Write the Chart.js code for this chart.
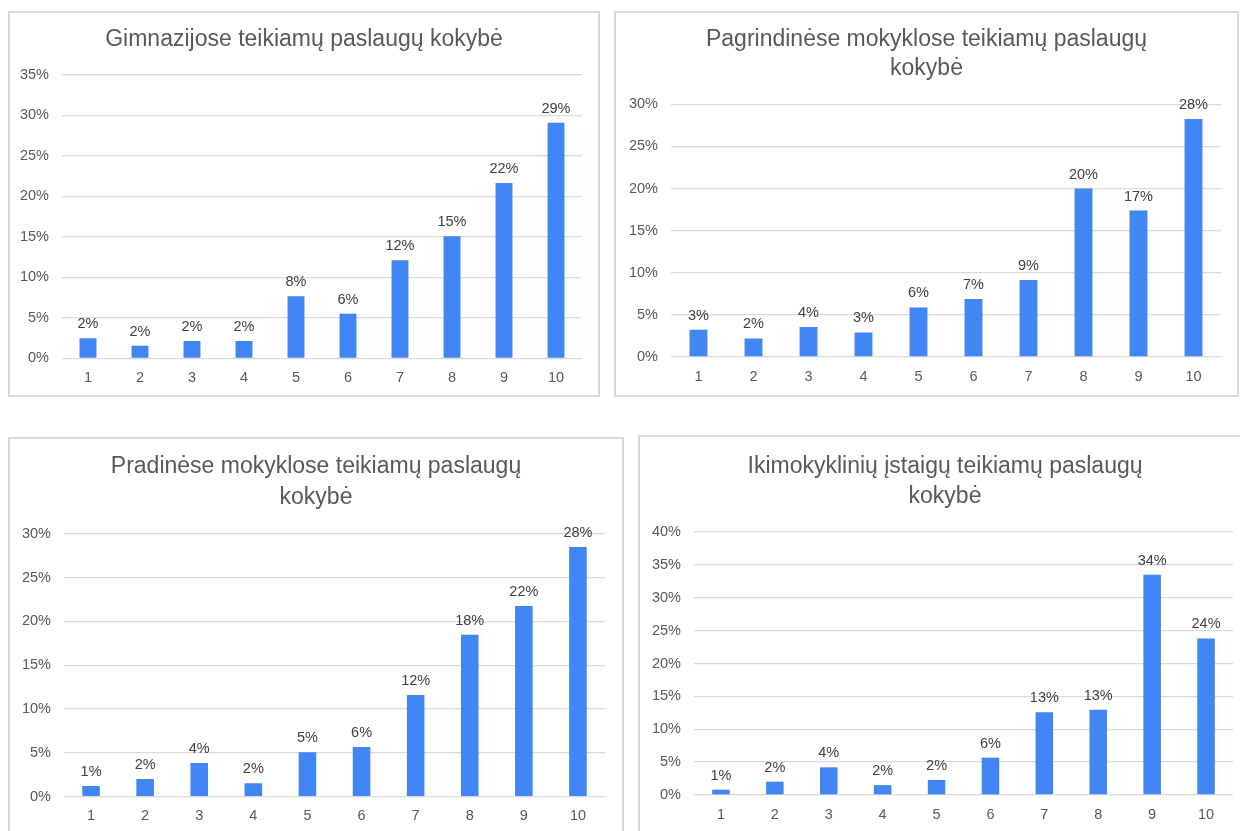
<!DOCTYPE html>
<html lang="lt">
<head>
<meta charset="utf-8">
<title>Teikiamų paslaugų kokybė</title>
<script src="https://cdn.jsdelivr.net/npm/chart.js@4.4.1/dist/chart.umd.min.js"></script>
<style>
  html, body { margin: 0; padding: 0; background: #fff; overflow: hidden; width: 1240px; height: 831px; }
  .box { position: absolute; box-sizing: border-box; border: 2px solid #d9d9d9; }
  canvas { position: absolute; }
</style>
</head>
<body>
<script>
const categories = ['1', '2', '3', '4', '5', '6', '7', '8', '9', '10'];

// shares in %
const gimnazijos = [2.47, 1.56, 2.14, 2.14, 7.66, 5.5, 12.1, 15.07, 21.65, 29.1];
const pagrindines = [3.24, 2.21, 3.56, 2.92, 5.89, 6.88, 9.13, 20.0, 17.39, 28.26];
const pradines = [1.22, 2.02, 3.84, 1.52, 5.06, 5.67, 11.6, 18.48, 21.75, 28.48];
const ikimokyklines = [0.81, 2.03, 4.21, 1.5, 2.28, 5.68, 12.57, 12.97, 33.5, 23.82];

const title1 = ['Gimnazijose teikiamų paslaugų kokybė'];
const title2 = ['Pagrindinėse mokyklose teikiamų paslaugų', 'kokybė'];
const title3 = ['Pradinėse mokyklose teikiamų paslaugų', 'kokybė'];
const title4 = ['Ikimokyklinių įstaigų teikiamų paslaugų', 'kokybė'];

const yMax1 = 35, yMax2 = 30, yMax3 = 30, yMax4 = 40;

const FONT = '"Liberation Sans", Arial, sans-serif';
const VIEW_H = 831;

// box = frame edges, plot = chart area edges (page px)
const panels = [
    { title: title1, values: gimnazijos, max: yMax1, box: [8, 11, 600, 397], plot: [62, 75, 582, 358.3], titleY: 40, lineH: 29 },
    { title: title2, values: pagrindines, max: yMax2, box: [614, 11, 1239, 397], plot: [671, 104.3, 1221, 357], titleY: 40, lineH: 28.5 },
    { title: title3, values: pradines, max: yMax3, box: [8, 437, 624, 845], plot: [64, 533.7, 605, 796.7], titleY: 466.7, lineH: 30.5 },
    { title: title4, values: ikimokyklines, max: yMax4, box: [638, 435, 1252, 845], plot: [694, 532, 1233, 795], titleY: 466.7, lineH: 29.5 }
];

const valueLabels = {
    id: 'valueLabels',
    afterDatasetsDraw(chart) {
        const ctx = chart.ctx;
        const values = chart.data.datasets[0].data;
        ctx.save();
        ctx.font = '14.5px ' + FONT;
        ctx.fillStyle = '#404040';
        ctx.textAlign = 'center';
        ctx.textBaseline = 'alphabetic';
        chart.getDatasetMeta(0).data.forEach((bar, i) => {
            ctx.fillText(Math.round(values[i]) + '%', bar.x, bar.y - 10);
        });
        ctx.restore();
    }
};

function makePanel(p) {
    const [bl, bt, br, bb] = p.box;
    const [pl, pt, pr, pb] = p.plot;

    const frame = document.createElement('div');
    frame.className = 'box';
    Object.assign(frame.style, { left: bl + 'px', top: bt + 'px', width: (br - bl) + 'px', height: (bb - bt) + 'px' });
    document.body.appendChild(frame);

    const h = Math.min(bb, VIEW_H) - bt;
    const canvas = document.createElement('canvas');
    canvas.width = br - bl;
    canvas.height = h;
    canvas.style.left = bl + 'px';
    canvas.style.top = bt + 'px';
    document.body.appendChild(canvas);

    const padTop = p.titleY - bt - p.lineH / 2;
    const padBottom = (pt - bt) - padTop - p.title.length * p.lineH;

    return new Chart(canvas, {
        type: 'bar',
        data: {
            labels: categories,
            datasets: [{
                data: p.values,
                backgroundColor: '#4285f4',
                barPercentage: 0.325,
                categoryPercentage: 1
            }]
        },
        plugins: [valueLabels],
        options: {
            responsive: false,
            animation: false,
            layout: { padding: 0 },
            scales: {
                x: {
                    grid: { display: false, drawTicks: false },
                    border: { display: false },
                    ticks: { color: '#595959', padding: 11, font: { family: FONT, size: 14.5 } },
                    afterFit: (s) => { s.height = h - (pb - bt); }
                },
                y: {
                    min: 0,
                    max: p.max,
                    grid: { color: '#d9d9d9', lineWidth: 1.3, drawTicks: false },
                    border: { display: false },
                    ticks: {
                        stepSize: 5,
                        padding: 13,
                        color: '#595959',
                        font: { family: FONT, size: 14.5 },
                        callback: (v) => v + '%'
                    },
                    afterFit: (s) => { s.width = pl - bl; }
                },
                // empty right margin so the title stays centred in the frame
                spacer: {
                    position: 'right',
                    grid: { display: false, drawTicks: false },
                    border: { display: false },
                    ticks: { display: false },
                    afterFit: (s) => { s.width = br - pr; }
                }
            },
            plugins: {
                legend: { display: false },
                tooltip: { enabled: false },
                title: {
                    display: true,
                    text: p.title,
                    color: '#595959',
                    font: { family: FONT, size: 23, weight: 'normal', lineHeight: p.lineH + 'px' },
                    padding: { top: padTop, bottom: padBottom }
                }
            }
        }
    });
}

panels.forEach(makePanel);
</script>
</body>
</html>
